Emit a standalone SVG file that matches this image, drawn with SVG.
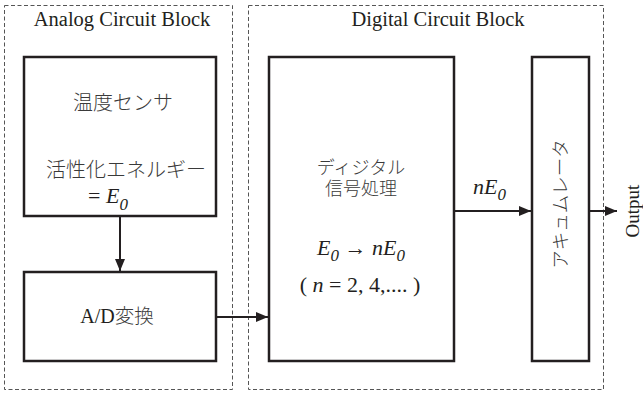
<svg xmlns="http://www.w3.org/2000/svg" width="643" height="394" viewBox="0 0 643 394">
<style>
.grp{fill:none;stroke:#555;stroke-width:1;stroke-dasharray:4 2.5}
.box{fill:#fff;stroke:#231f20;stroke-width:2.5}
.t{font-family:"Liberation Serif","Times New Roman",serif;fill:#231f20}
.jp{font-family:"Noto Sans CJK JP",sans-serif;fill:#3a3a3a;font-weight:300}
.i{font-style:italic}
.line{stroke:#231f20;stroke-width:2;fill:none}
</style>
<defs>
<marker id="ah" viewBox="0 0 12 10" refX="12" refY="5" markerWidth="12" markerHeight="10" markerUnits="userSpaceOnUse" orient="auto">
<path d="M0,0 L12,5 L0,10 Z" fill="#231f20"/>
</marker>
</defs>
<g id="analog-block">
<rect class="grp" x="4.5" y="5.5" width="228" height="384"/>
<text class="t" x="122" y="26" font-size="20.5" text-anchor="middle">Analog Circuit Block</text>
</g>
<g id="digital-block">
<rect class="grp" x="248.5" y="5.5" width="355" height="384"/>
<text class="t" x="438" y="26" font-size="20.5" text-anchor="middle">Digital Circuit Block</text>
</g>
<g id="sensor">
<rect class="box" x="24" y="57" width="192" height="159"/>
<text class="jp" x="123" y="110" font-size="20" text-anchor="middle">温度センサ</text>
<text class="jp" x="126" y="177" font-size="20" text-anchor="middle">活性化エネルギー</text>
<text class="t" x="88" y="203" font-size="22">= <tspan class="i">E</tspan><tspan class="i" font-size="17" dy="7">0</tspan></text>
</g>
<g id="adc">
<rect class="box" x="24" y="272" width="192" height="89"/>
<text x="117" y="323" text-anchor="middle"><tspan class="t" font-size="20">A/D</tspan><tspan class="jp" font-size="19.5">変換</tspan></text>
</g>
<g id="dsp">
<rect class="box" x="269" y="57" width="185" height="304"/>
<text class="jp" font-size="18" text-anchor="middle"><tspan x="361" y="174">ディジタル</tspan><tspan x="361" y="195">信号処理</tspan></text>
<text class="t" x="361" y="255" font-size="22" text-anchor="middle"><tspan class="i">E</tspan><tspan class="i" font-size="17" dy="6">0</tspan><tspan dy="-6"> → </tspan><tspan class="i">nE</tspan><tspan class="i" font-size="17" dy="6">0</tspan></text>
<text class="t" x="360" y="292" font-size="22" text-anchor="middle">( <tspan class="i">n</tspan> = 2, 4,.... )</text>
</g>
<g id="accumulator">
<rect class="box" x="532" y="57" width="57" height="304"/>
<text class="jp" transform="translate(567,204) rotate(-90)" font-size="18.5" text-anchor="middle">アキュムレータ</text>
</g>
<g id="output-label">
<text class="t" transform="translate(639,211) rotate(-90)" font-size="19" text-anchor="middle">Output</text>
</g>
<g id="nE0-label">
<text class="t i" x="473" y="194" font-size="22"><tspan>nE</tspan><tspan font-size="17" dy="6">0</tspan></text>
</g>
<g id="connectors">
<line class="line" x1="120" y1="216" x2="120" y2="271" marker-end="url(#ah)"/>
<line class="line" x1="216" y1="317" x2="268" y2="317" marker-end="url(#ah)"/>
<line class="line" x1="454" y1="211" x2="531" y2="211" marker-end="url(#ah)"/>
<line class="line" x1="589" y1="211" x2="617" y2="211" marker-end="url(#ah)"/>
</g>
</svg>
